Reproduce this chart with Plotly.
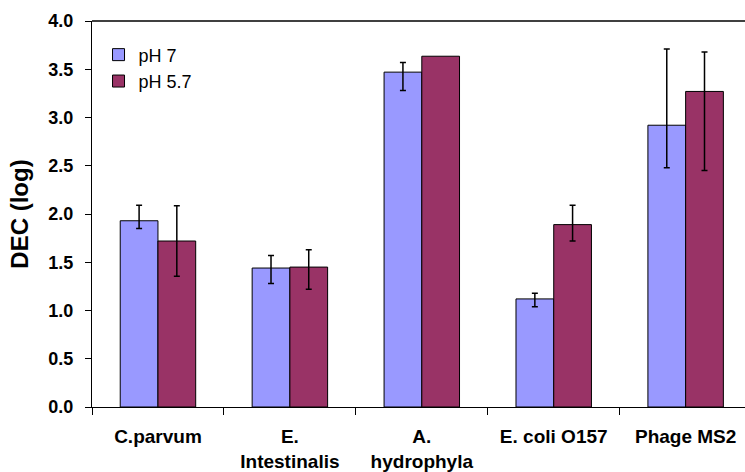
import plotly.graph_objects as go

categories = ["C.parvum", "E.<br>Intestinalis", "A.<br>hydrophyla", "E. coli O157", "Phage MS2"]
ph7_values = [1.93, 1.44, 3.47, 1.12, 2.92]
ph7_err_plus = [0.16, 0.13, 0.10, 0.06, 0.79]
ph7_err_minus = [0.08, 0.16, 0.19, 0.08, 0.44]
ph57_values = [1.72, 1.45, 3.635, 1.89, 3.27]
# A. hydrophyla at pH 5.7 has no error bar ("NaN" makes plotly.js skip it)
ph57_err_plus = [0.365, 0.18, "NaN", 0.20, 0.41]
ph57_err_minus = [0.365, 0.23, "NaN", 0.17, 0.82]
y_ticks = [0.0, 0.5, 1.0, 1.5, 2.0, 2.5, 3.0, 3.5, 4.0]

FONT = "Arial, Liberation Sans, sans-serif"

fig = go.Figure()
fig.add_trace(go.Bar(
    name="pH 7", x=categories, y=ph7_values,
    marker=dict(color="#9999FF", line=dict(color="black", width=1)),
    error_y=dict(type="data", symmetric=False, array=ph7_err_plus, arrayminus=ph7_err_minus,
                 color="black", thickness=1.5, width=3),
))
fig.add_trace(go.Bar(
    name="pH 5.7", x=categories, y=ph57_values,
    marker=dict(color="#993366", line=dict(color="black", width=1)),
    error_y=dict(type="data", symmetric=False, array=ph57_err_plus, arrayminus=ph57_err_minus,
                 color="black", thickness=1.5, width=3),
))

fig.update_layout(
    width=745, height=472,
    margin=dict(l=92, r=0, t=21, b=65),
    paper_bgcolor="white", plot_bgcolor="white",
    barmode="group", bargap=0.428, bargroupgap=0,
    font=dict(family=FONT, color="black"),
    showlegend=True,
    legend=dict(x=0.01, y=0.96, xanchor="left", yanchor="top",
                font=dict(size=18, family=FONT), bgcolor="rgba(0,0,0,0)",
                itemwidth=30),
    xaxis=dict(
        type="category", range=[-0.5, 4.45],
        showline=True, linecolor="black", linewidth=1.3,
        mirror=False, ticks="outside", tickson="boundaries", ticklen=7,
        tickcolor="black", tickwidth=1,
        tickfont=dict(size=19, family=FONT, weight="bold"),
        ticklabelstandoff=12,
        showgrid=False,
    ),
    yaxis=dict(
        range=[0, 4], tickvals=y_ticks, tickformat=".1f",
        showline=True, linecolor="black", linewidth=1.3,
        ticks="outside", ticklen=6, tickcolor="black", tickwidth=1,
        tickfont=dict(size=18, family=FONT, weight="bold"),
        ticklabelstandoff=8,
        showgrid=False, zeroline=False,
        title=dict(text="DEC (log)", font=dict(size=24, family=FONT, weight="bold"), standoff=12),
    ),
)
# top border of plot area
fig.add_shape(type="line", xref="paper", yref="paper", x0=0, x1=1, y0=1, y1=1,
              line=dict(color="black", width=1.3))

fig.write_html("out.html")
